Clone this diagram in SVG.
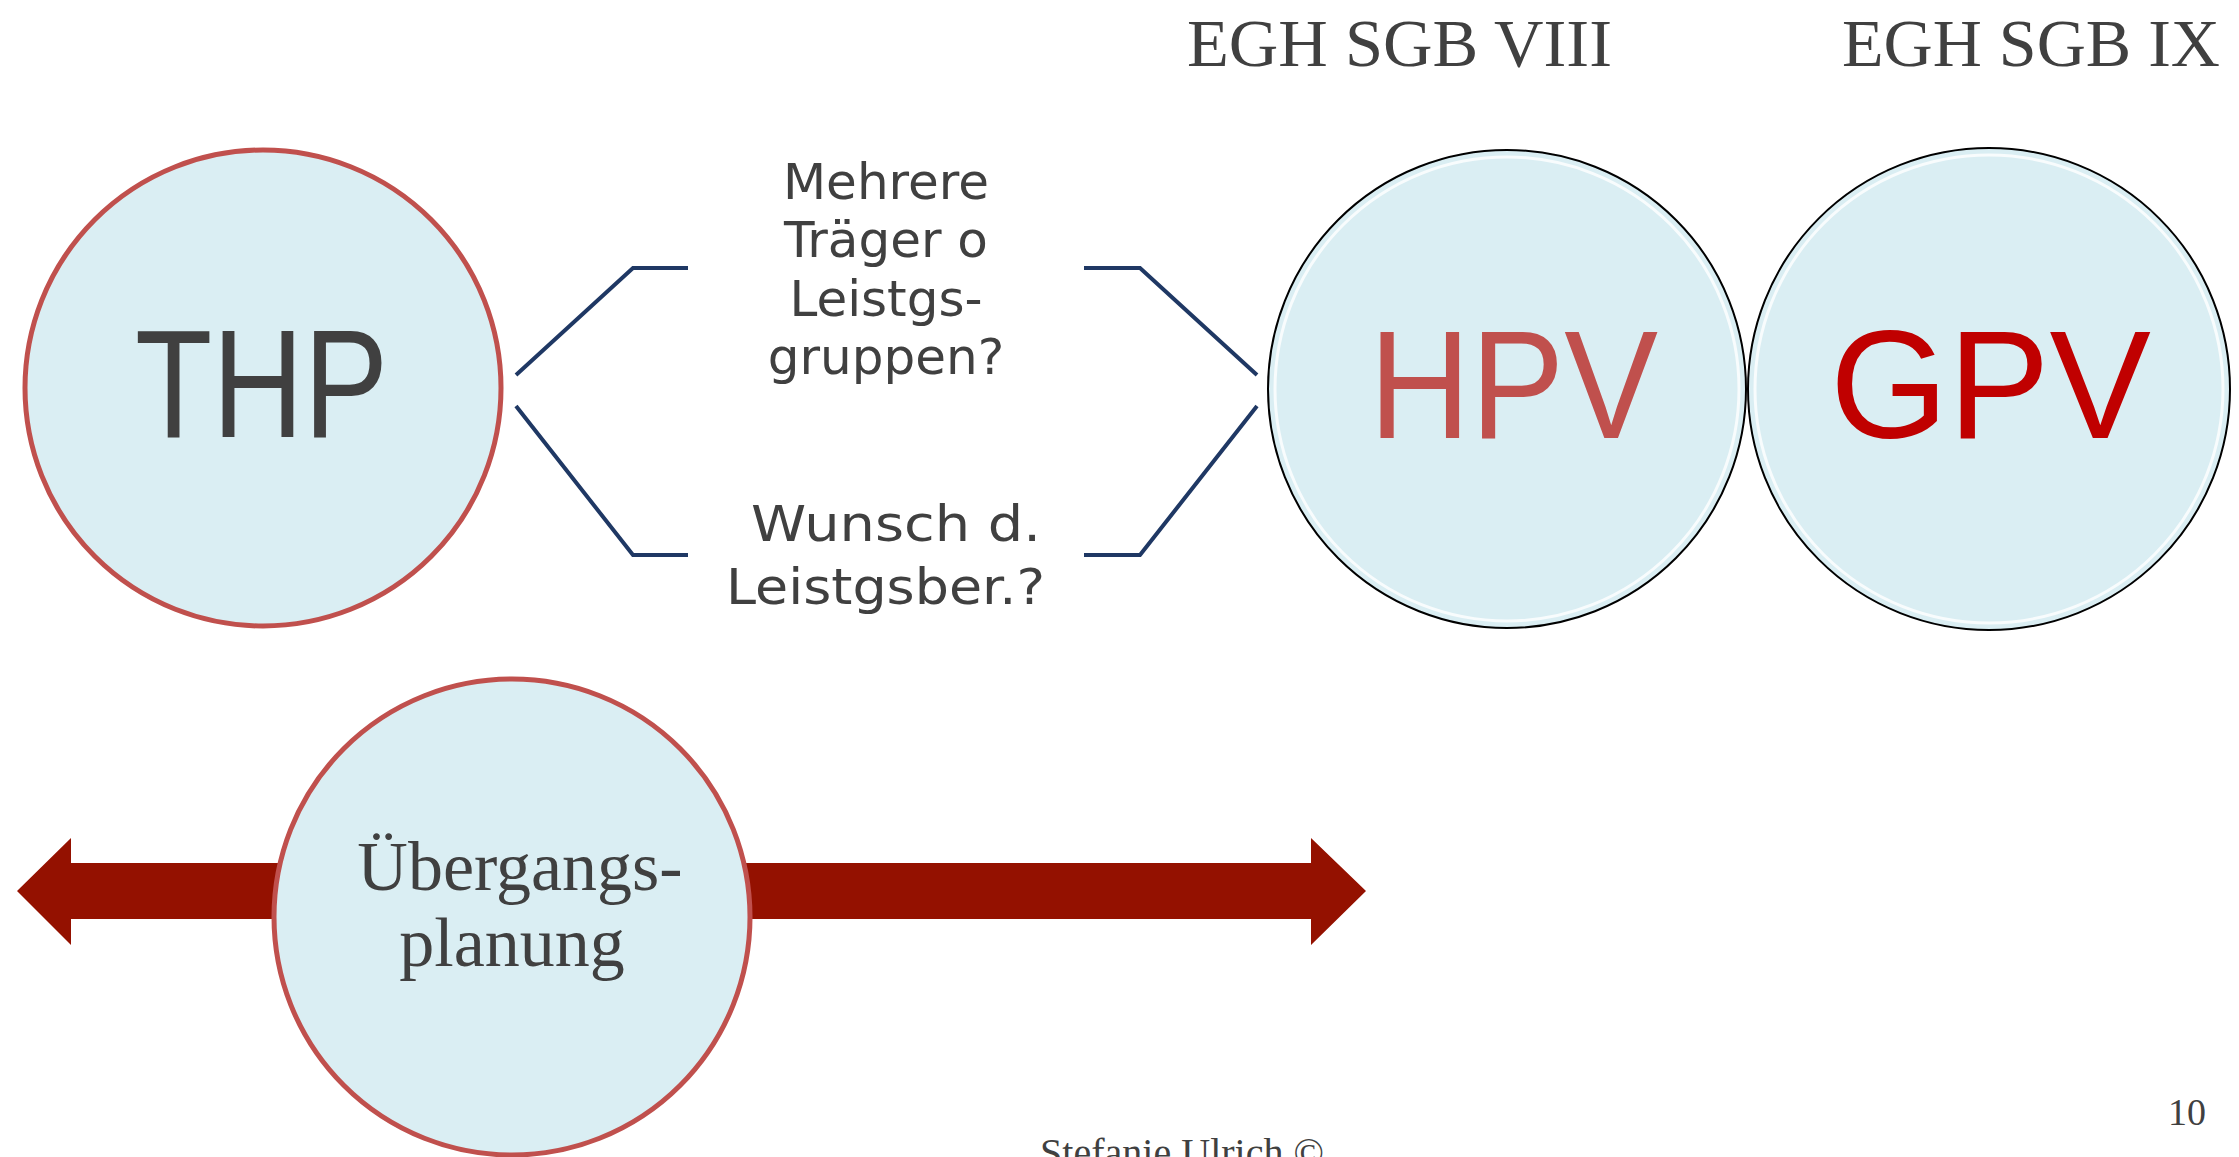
<svg xmlns="http://www.w3.org/2000/svg" width="2239" height="1157" viewBox="0 0 2239 1157">
<style>
.sans{font-family:"DejaVu Sans","Liberation Sans",sans-serif;fill:#404040}
.serif{font-family:"Liberation Serif","DejaVu Serif",serif;fill:#404040}
.big{font-family:"Liberation Sans","DejaVu Sans",sans-serif;font-size:154px}
.conn{fill:none;stroke:#1F3864;stroke-width:4;stroke-linejoin:miter}
.red{fill:#DAEEF3;stroke:#C0504D;stroke-width:5}
.glass{fill:#DAEEF3;stroke:#000;stroke-width:2}
.hl{fill:none;stroke:#fff;stroke-width:3;opacity:0.8}
</style>
<rect width="2239" height="1157" fill="#fff"/>
<g id="headers">
<text class="serif" x="1187" y="66" font-size="68" textLength="425" lengthAdjust="spacingAndGlyphs">EGH SGB VIII</text>
<text class="serif" x="1842" y="66" font-size="68" textLength="378" lengthAdjust="spacingAndGlyphs">EGH SGB IX</text>
</g>
<g id="connectors">
<polyline class="conn" points="516,375 633,268 688,268"/>
<polyline class="conn" points="516,406 633,555 688,555"/>
<polyline class="conn" points="1084,268 1140,268 1257,375"/>
<polyline class="conn" points="1084,555 1140,555 1257,406"/>
</g>
<g id="label-mehrere" class="sans" font-size="50" text-anchor="middle">
<text x="886" y="199">Mehrere</text>
<text x="886" y="257">Träger o</text>
<text x="886" y="316">Leistgs-</text>
<text x="886" y="374">gruppen?</text>
</g>
<g id="label-wunsch" class="sans" font-size="50">
<text x="751" y="541" textLength="290" lengthAdjust="spacingAndGlyphs">Wunsch d.</text>
<text x="726" y="604" textLength="319" lengthAdjust="spacingAndGlyphs">Leistgsber.?</text>
</g>
<g id="node-thp">
<circle class="red" cx="263" cy="388" r="238"/>
<text class="big" x="135" y="437" fill="#404040" textLength="253" lengthAdjust="spacingAndGlyphs">THP</text>
</g>
<g id="node-hpv">
<circle class="glass" cx="1507" cy="389" r="239"/>
<circle class="hl" cx="1507" cy="389" r="232"/>
<text class="big" x="1369" y="438" fill="#C0504D" textLength="289" lengthAdjust="spacingAndGlyphs">HPV</text>
</g>
<g id="node-gpv">
<circle class="glass" cx="1989" cy="389" r="241"/>
<circle class="hl" cx="1989" cy="389" r="234"/>
<text class="big" x="1830" y="438" fill="#C00000" textLength="321" lengthAdjust="spacingAndGlyphs">GPV</text>
</g>
<g id="arrow">
<polygon fill="#941100" points="17,891 71,838 71,863 1311,863 1311,838 1366,891 1311,945 1311,919 71,919 71,945"/>
</g>
<g id="node-uebergang">
<circle class="red" cx="512" cy="917" r="238"/>
<text class="serif" x="520" y="890" font-size="70" text-anchor="middle">Übergangs-</text>
<text class="serif" x="512" y="966" font-size="70" text-anchor="middle">planung</text>
</g>
<g id="footer">
<text class="serif" x="1040" y="1166" font-size="40" textLength="284" lengthAdjust="spacingAndGlyphs">Stefanie Ulrich ©</text>
<text class="serif" x="2168" y="1125" font-size="38">10</text>
</g>
</svg>
